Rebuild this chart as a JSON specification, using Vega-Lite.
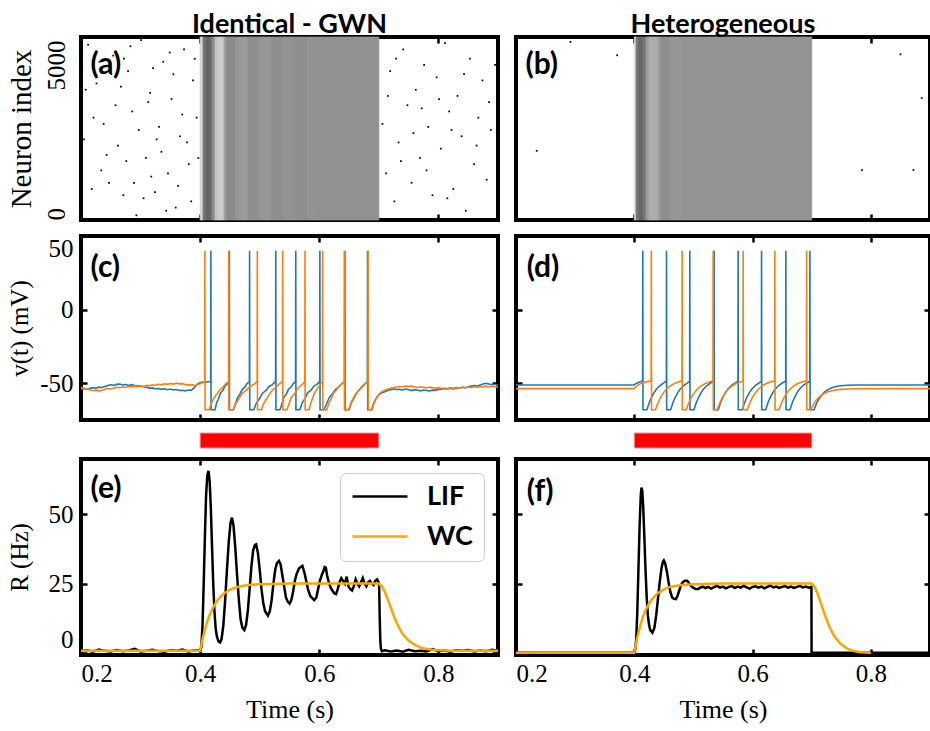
{
"$schema": "https://vega.github.io/schema/vega-lite/v6.json",
"background": "white",
"padding": {"left": 4, "top": 8, "right": 0, "bottom": 0},
"datasets": {
"rasA_band": [
{"t0":0.400,"t1":0.405,"d":0.15},{"t0":0.405,"t1":0.410,"d":0.52},{"t0":0.410,"t1":0.415,"d":0.58},{"t0":0.415,"t1":0.420,"d":0.56},
{"t0":0.420,"t1":0.425,"d":0.42},{"t0":0.425,"t1":0.430,"d":0.22},{"t0":0.430,"t1":0.440,"d":0.18},
{"t0":0.440,"t1":0.445,"d":0.35},{"t0":0.445,"t1":0.460,"d":0.42},{"t0":0.460,"t1":0.470,"d":0.38},{"t0":0.470,"t1":0.480,"d":0.36},
{"t0":0.480,"t1":0.500,"d":0.41},{"t0":0.500,"t1":0.520,"d":0.38},{"t0":0.520,"t1":0.540,"d":0.41},{"t0":0.540,"t1":0.560,"d":0.39},
{"t0":0.560,"t1":0.580,"d":0.41},{"t0":0.580,"t1":0.600,"d":0.39},{"t0":0.600,"t1":0.700,"d":0.40}
],
"rasB_band": [
{"t0":0.400,"t1":0.403,"d":0.12},{"t0":0.403,"t1":0.408,"d":0.5},{"t0":0.408,"t1":0.415,"d":0.57},{"t0":0.415,"t1":0.420,"d":0.5},
{"t0":0.420,"t1":0.425,"d":0.36},{"t0":0.425,"t1":0.440,"d":0.29},{"t0":0.440,"t1":0.445,"d":0.35},
{"t0":0.445,"t1":0.460,"d":0.41},{"t0":0.460,"t1":0.480,"d":0.38},{"t0":0.480,"t1":0.700,"d":0.39}
],
"rasA_dots": [
{"t":0.212,"n":5650},{"t":0.226,"n":4400},{"t":0.238,"n":3100},{"t":0.247,"n":1200},{"t":0.254,"n":5300},{"t":0.262,"n":2400},
{"t":0.271,"n":800},{"t":0.279,"n":4800},{"t":0.286,"n":3500},{"t":0.293,"n":150},{"t":0.301,"n":5800},{"t":0.309,"n":2000},
{"t":0.316,"n":4100},{"t":0.324,"n":900},{"t":0.331,"n":3000},{"t":0.338,"n":5100},{"t":0.346,"n":1500},{"t":0.352,"n":3900},
{"t":0.359,"n":400},{"t":0.366,"n":2700},{"t":0.373,"n":5500},{"t":0.381,"n":1800},{"t":0.388,"n":4500},{"t":0.394,"n":3300},
{"t":0.205,"n":2600},{"t":0.218,"n":1000},{"t":0.231,"n":5100},{"t":0.243,"n":2100},{"t":0.258,"n":3700},{"t":0.267,"n":4300},
{"t":0.276,"n":1900},{"t":0.283,"n":5600},{"t":0.297,"n":2900},{"t":0.305,"n":700},{"t":0.313,"n":3800},{"t":0.321,"n":4900},
{"t":0.335,"n":2200},{"t":0.343,"n":300},{"t":0.355,"n":4700},{"t":0.363,"n":1100},{"t":0.370,"n":3400},{"t":0.378,"n":2500},
{"t":0.385,"n":600},{"t":0.391,"n":5200},{"t":0.208,"n":4200},{"t":0.221,"n":3300},{"t":0.251,"n":4700},{"t":0.289,"n":1200},
{"t":0.327,"n":2600},{"t":0.349,"n":5400},{"t":0.397,"n":2000},{"t":0.234,"n":1600},{"t":0.272,"n":5200},{"t":0.318,"n":1400},
{"t":0.706,"n":3100},{"t":0.712,"n":1500},{"t":0.719,"n":4800},{"t":0.726,"n":600},{"t":0.733,"n":2500},{"t":0.741,"n":5500},
{"t":0.748,"n":3700},{"t":0.755,"n":1200},{"t":0.762,"n":4200},{"t":0.769,"n":2000},{"t":0.776,"n":5000},{"t":0.783,"n":3000},
{"t":0.790,"n":800},{"t":0.797,"n":4600},{"t":0.804,"n":2300},{"t":0.811,"n":5700},{"t":0.818,"n":3500},{"t":0.825,"n":1000},
{"t":0.832,"n":4000},{"t":0.839,"n":2700},{"t":0.846,"n":300},{"t":0.853,"n":5200},{"t":0.860,"n":1800},{"t":0.867,"n":3300},
{"t":0.874,"n":4500},{"t":0.881,"n":1300},{"t":0.888,"n":2900},{"t":0.895,"n":5000},{"t":0.715,"n":4000},{"t":0.737,"n":1900},
{"t":0.758,"n":2800},{"t":0.780,"n":1600},{"t":0.801,"n":3900},{"t":0.822,"n":2900},{"t":0.843,"n":4700},{"t":0.864,"n":2400},
{"t":0.885,"n":3800},{"t":0.729,"n":5200},{"t":0.772,"n":3600},{"t":0.815,"n":700}
],
"rasB_dots": [
{"t":0.292,"n":5740},{"t":0.371,"n":5310},{"t":0.235,"n":2230},{"t":0.850,"n":5340},{"t":0.886,"n":3930},{"t":0.785,"n":1610},{"t":0.872,"n":1610}
],
"vC_b": [
{"t":0.200,"v":-54.0},{"t":0.205,"v":-53.6},{"t":0.210,"v":-54.2},{"t":0.215,"v":-53.5},{"t":0.220,"v":-53.0},{"t":0.225,"v":-53.4},
{"t":0.230,"v":-52.7},{"t":0.235,"v":-52.9},{"t":0.240,"v":-52.2},{"t":0.245,"v":-51.6},{"t":0.250,"v":-51.1},{"t":0.255,"v":-51.5},
{"t":0.260,"v":-50.8},{"t":0.265,"v":-50.6},{"t":0.270,"v":-51.2},{"t":0.275,"v":-50.9},{"t":0.280,"v":-51.5},{"t":0.285,"v":-51.0},
{"t":0.290,"v":-51.6},{"t":0.295,"v":-52.0},{"t":0.300,"v":-51.7},{"t":0.305,"v":-52.4},{"t":0.310,"v":-52.8},{"t":0.315,"v":-53.5},
{"t":0.320,"v":-53.2},{"t":0.325,"v":-53.9},{"t":0.330,"v":-53.6},{"t":0.335,"v":-54.2},{"t":0.340,"v":-53.8},{"t":0.345,"v":-54.4},
{"t":0.350,"v":-54.0},{"t":0.355,"v":-54.6},{"t":0.360,"v":-54.3},{"t":0.365,"v":-55.0},{"t":0.370,"v":-54.8},{"t":0.375,"v":-55.2},
{"t":0.380,"v":-54.6},{"t":0.385,"v":-54.9},{"t":0.390,"v":-53.2},{"t":0.393,"v":-51.8},{"t":0.396,"v":-50.4},{"t":0.400,"v":-49.6},
{"t":0.404,"v":-49.3},{"t":0.408,"v":-49.6},{"t":0.412,"v":-49.0},{"t":0.4177,"v":-48.8},
{"t":0.418,"v":40},{"t":0.4183,"v":-68},
{"t":0.425,"v":-68},{"t":0.4278,"v":-63.2},{"t":0.4309,"v":-60.6},{"t":0.4345,"v":-56.5},{"t":0.4380,"v":-55.0},{"t":0.4416,"v":-52.0},{"t":0.4451,"v":-50.9},{"t":0.4487,"v":-48.9},
{"t":0.449,"v":40},{"t":0.4493,"v":-68},
{"t":0.456,"v":-68},{"t":0.4592,"v":-64.1},{"t":0.4627,"v":-59.8},{"t":0.4667,"v":-57.4},{"t":0.4707,"v":-54.2},{"t":0.4747,"v":-52.9},{"t":0.4787,"v":-50.3},{"t":0.4827,"v":-49.1},
{"t":0.483,"v":40},{"t":0.4833,"v":-68},
{"t":0.490,"v":-68},{"t":0.4944,"v":-63.5},{"t":0.4992,"v":-60.9},{"t":0.5047,"v":-56.8},{"t":0.5102,"v":-55.1},{"t":0.5157,"v":-52.2},{"t":0.5212,"v":-51.0},{"t":0.5267,"v":-48.8},
{"t":0.527,"v":40},{"t":0.5273,"v":-68},
{"t":0.534,"v":-68},{"t":0.5371,"v":-64.3},{"t":0.5406,"v":-59.6},{"t":0.5445,"v":-57.6},{"t":0.5484,"v":-54.0},{"t":0.5523,"v":-52.8},{"t":0.5563,"v":-50.2},{"t":0.5602,"v":-49.0},
{"t":0.5605,"v":40},{"t":0.5608,"v":-68},
{"t":0.5675,"v":-68},{"t":0.5715,"v":-63.0},{"t":0.5758,"v":-60.7},{"t":0.5808,"v":-56.3},{"t":0.5858,"v":-54.9},{"t":0.5907,"v":-52.1},{"t":0.5957,"v":-50.8},{"t":0.6007,"v":-48.9},
{"t":0.601,"v":40},{"t":0.6013,"v":-68},
{"t":0.608,"v":-68},{"t":0.6122,"v":-64.0},{"t":0.6167,"v":-59.9},{"t":0.6219,"v":-57.3},{"t":0.6271,"v":-54.3},{"t":0.6323,"v":-52.7},{"t":0.6375,"v":-50.4},{"t":0.6427,"v":-49.1},
{"t":0.643,"v":40},{"t":0.6433,"v":-68},
{"t":0.650,"v":-68},{"t":0.6537,"v":-63.4},{"t":0.6577,"v":-60.5},{"t":0.6623,"v":-56.7},{"t":0.6669,"v":-54.8},{"t":0.6715,"v":-52.3},{"t":0.6761,"v":-50.7},{"t":0.6807,"v":-48.9},
{"t":0.681,"v":40},{"t":0.6813,"v":-68},
{"t":0.688,"v":-68},{"t":0.691,"v":-64.0},{"t":0.695,"v":-60.5},{"t":0.700,"v":-57.8},{"t":0.705,"v":-56.5},{"t":0.710,"v":-55.8},
{"t":0.715,"v":-55.0},{"t":0.720,"v":-54.5},{"t":0.725,"v":-54.0},{"t":0.730,"v":-54.3},{"t":0.735,"v":-54.2},{"t":0.740,"v":-54.6},
{"t":0.745,"v":-54.0},{"t":0.750,"v":-54.5},{"t":0.755,"v":-55.0},{"t":0.760,"v":-54.4},{"t":0.765,"v":-54.8},{"t":0.770,"v":-55.2},
{"t":0.775,"v":-54.6},{"t":0.780,"v":-55.0},{"t":0.785,"v":-55.3},{"t":0.790,"v":-54.7},{"t":0.795,"v":-54.9},{"t":0.800,"v":-54.2},
{"t":0.805,"v":-54.0},{"t":0.810,"v":-53.5},{"t":0.815,"v":-53.8},{"t":0.820,"v":-53.2},{"t":0.825,"v":-53.6},{"t":0.830,"v":-53.0},
{"t":0.835,"v":-53.4},{"t":0.840,"v":-52.8},{"t":0.845,"v":-53.1},{"t":0.850,"v":-52.5},{"t":0.855,"v":-52.0},{"t":0.860,"v":-51.6},
{"t":0.865,"v":-51.9},{"t":0.870,"v":-51.2},{"t":0.875,"v":-50.6},{"t":0.880,"v":-50.1},{"t":0.885,"v":-50.5},{"t":0.890,"v":-51.0},
{"t":0.895,"v":-50.7},{"t":0.900,"v":-51.2}
],
"vC_o": [
{"t":0.200,"v":-52.8},{"t":0.205,"v":-53.4},{"t":0.210,"v":-54.0},{"t":0.215,"v":-54.6},{"t":0.220,"v":-55.0},{"t":0.225,"v":-54.7},
{"t":0.230,"v":-55.2},{"t":0.235,"v":-54.8},{"t":0.240,"v":-54.1},{"t":0.245,"v":-53.6},{"t":0.250,"v":-53.9},{"t":0.255,"v":-53.2},
{"t":0.260,"v":-52.8},{"t":0.265,"v":-53.1},{"t":0.270,"v":-52.6},{"t":0.275,"v":-52.9},{"t":0.280,"v":-52.3},{"t":0.285,"v":-52.6},
{"t":0.290,"v":-52.0},{"t":0.295,"v":-52.4},{"t":0.300,"v":-51.9},{"t":0.305,"v":-52.2},{"t":0.310,"v":-51.5},{"t":0.315,"v":-51.8},
{"t":0.320,"v":-51.1},{"t":0.325,"v":-51.4},{"t":0.330,"v":-50.7},{"t":0.335,"v":-51.0},{"t":0.340,"v":-50.4},{"t":0.345,"v":-50.8},
{"t":0.350,"v":-50.2},{"t":0.355,"v":-50.6},{"t":0.360,"v":-50.0},{"t":0.365,"v":-50.5},{"t":0.370,"v":-50.3},{"t":0.375,"v":-50.9},
{"t":0.380,"v":-51.3},{"t":0.385,"v":-51.0},{"t":0.390,"v":-51.6},{"t":0.395,"v":-51.2},{"t":0.400,"v":-50.4},{"t":0.404,"v":-49.5},
{"t":0.4077,"v":-48.8},
{"t":0.408,"v":40},{"t":0.4083,"v":-68},
{"t":0.415,"v":-68},{"t":0.4189,"v":-63.6},{"t":0.4232,"v":-60.0},{"t":0.4281,"v":-57.3},{"t":0.4330,"v":-54.4},{"t":0.4379,"v":-52.8},{"t":0.4428,"v":-50.4},{"t":0.4477,"v":-48.9},
{"t":0.448,"v":40},{"t":0.4483,"v":-68},
{"t":0.455,"v":-68},{"t":0.4599,"v":-63.9},{"t":0.4652,"v":-60.4},{"t":0.4713,"v":-56.6},{"t":0.4774,"v":-54.9},{"t":0.4835,"v":-52.2},{"t":0.4896,"v":-50.9},{"t":0.4957,"v":-48.8},
{"t":0.496,"v":40},{"t":0.4963,"v":-68},
{"t":0.503,"v":-68},{"t":0.5072,"v":-63.4},{"t":0.5118,"v":-60.6},{"t":0.5171,"v":-56.9},{"t":0.5224,"v":-54.3},{"t":0.5276,"v":-52.6},{"t":0.5329,"v":-50.5},{"t":0.5382,"v":-49.0},
{"t":0.5385,"v":40},{"t":0.5388,"v":-68},
{"t":0.5455,"v":-68},{"t":0.5491,"v":-64.2},{"t":0.5531,"v":-59.7},{"t":0.5576,"v":-57.5},{"t":0.5621,"v":-54.7},{"t":0.5666,"v":-52.4},{"t":0.5712,"v":-50.9},{"t":0.5757,"v":-48.9},
{"t":0.576,"v":40},{"t":0.5763,"v":-68},
{"t":0.583,"v":-68},{"t":0.5857,"v":-63.7},{"t":0.5886,"v":-60.3},{"t":0.5919,"v":-56.8},{"t":0.5953,"v":-54.5},{"t":0.5986,"v":-52.6},{"t":0.6020,"v":-50.5},{"t":0.6053,"v":-49.0},
{"t":0.6056,"v":40},{"t":0.6059,"v":-68},
{"t":0.6126,"v":-68},{"t":0.6161,"v":-63.5},{"t":0.6199,"v":-60.8},{"t":0.6242,"v":-56.6},{"t":0.6286,"v":-54.8},{"t":0.6330,"v":-52.1},{"t":0.6373,"v":-50.7},{"t":0.6417,"v":-48.9},
{"t":0.642,"v":40},{"t":0.6423,"v":-68},
{"t":0.649,"v":-68},{"t":0.6529,"v":-64.0},{"t":0.6572,"v":-60.0},{"t":0.6621,"v":-57.2},{"t":0.6670,"v":-54.3},{"t":0.6719,"v":-52.7},{"t":0.6768,"v":-50.4},{"t":0.6817,"v":-48.8},
{"t":0.682,"v":40},{"t":0.6823,"v":-68},
{"t":0.689,"v":-68},{"t":0.692,"v":-63.5},{"t":0.696,"v":-59.8},{"t":0.700,"v":-57.5},{"t":0.705,"v":-55.8},{"t":0.710,"v":-54.8},
{"t":0.715,"v":-54.0},{"t":0.720,"v":-53.5},{"t":0.725,"v":-53.0},{"t":0.730,"v":-52.6},{"t":0.735,"v":-52.2},{"t":0.740,"v":-52.5},
{"t":0.745,"v":-51.9},{"t":0.750,"v":-52.3},{"t":0.755,"v":-52.0},{"t":0.760,"v":-52.6},{"t":0.765,"v":-52.9},{"t":0.770,"v":-52.4},
{"t":0.775,"v":-52.8},{"t":0.780,"v":-53.2},{"t":0.785,"v":-52.7},{"t":0.790,"v":-53.1},{"t":0.795,"v":-53.5},{"t":0.800,"v":-53.0},
{"t":0.805,"v":-53.4},{"t":0.810,"v":-53.8},{"t":0.815,"v":-54.1},{"t":0.820,"v":-53.6},{"t":0.825,"v":-54.0},{"t":0.830,"v":-53.5},
{"t":0.835,"v":-53.2},{"t":0.840,"v":-52.8},{"t":0.845,"v":-53.1},{"t":0.850,"v":-52.6},{"t":0.855,"v":-52.9},{"t":0.860,"v":-52.4},
{"t":0.865,"v":-52.7},{"t":0.870,"v":-52.2},{"t":0.875,"v":-52.5},{"t":0.880,"v":-52.0},{"t":0.885,"v":-52.4},{"t":0.890,"v":-52.1},
{"t":0.895,"v":-52.6},{"t":0.900,"v":-52.3}
],
"vD_b": [
{"t":0.2,"v":-51.2},{"t":0.4,"v":-51.2},{"t":0.403,"v":-50.2},{"t":0.407,"v":-49.5},{"t":0.411,"v":-48.9},{"t":0.4141,"v":-48.6},
{"t":0.4144,"v":40},{"t":0.4147,"v":-68},{"t":0.4214,"v":-68},{"t":0.4254,"v":-63.1},{"t":0.4294,"v":-59.4},{"t":0.4334,"v":-56.4},{"t":0.4374,"v":-54.1},{"t":0.4434,"v":-51.6},{"t":0.4494,"v":-49.9},{"t":0.4542,"v":-48.7},
{"t":0.4545,"v":40},{"t":0.4548,"v":-68},{"t":0.4615,"v":-68},{"t":0.4655,"v":-63.1},{"t":0.4695,"v":-59.4},{"t":0.4735,"v":-56.4},{"t":0.4775,"v":-54.1},{"t":0.4835,"v":-51.6},{"t":0.4895,"v":-49.9},{"t":0.4936,"v":-48.7},
{"t":0.4939,"v":40},{"t":0.4942,"v":-68},{"t":0.5009,"v":-68},{"t":0.5049,"v":-63.1},{"t":0.5089,"v":-59.4},{"t":0.5129,"v":-56.4},{"t":0.5169,"v":-54.1},{"t":0.5229,"v":-51.6},{"t":0.5289,"v":-49.9},{"t":0.5347,"v":-48.7},
{"t":0.535,"v":40},{"t":0.5353,"v":-68},{"t":0.542,"v":-68},{"t":0.546,"v":-63.1},{"t":0.550,"v":-59.4},{"t":0.554,"v":-56.4},{"t":0.558,"v":-54.1},{"t":0.564,"v":-51.6},{"t":0.570,"v":-49.9},{"t":0.5753,"v":-48.7},
{"t":0.5756,"v":40},{"t":0.5759,"v":-68},{"t":0.5826,"v":-68},{"t":0.5866,"v":-63.1},{"t":0.5906,"v":-59.4},{"t":0.5946,"v":-56.4},{"t":0.5986,"v":-54.1},{"t":0.6046,"v":-51.6},{"t":0.6106,"v":-49.9},{"t":0.6149,"v":-48.7},
{"t":0.6152,"v":40},{"t":0.6155,"v":-68},{"t":0.6222,"v":-68},{"t":0.6262,"v":-63.1},{"t":0.6302,"v":-59.4},{"t":0.6342,"v":-56.4},{"t":0.6382,"v":-54.1},{"t":0.6442,"v":-51.6},{"t":0.6502,"v":-49.9},{"t":0.656,"v":-48.7},
{"t":0.6563,"v":40},{"t":0.6566,"v":-68},{"t":0.6633,"v":-68},{"t":0.6673,"v":-63.1},{"t":0.6713,"v":-59.4},{"t":0.6753,"v":-56.4},{"t":0.6793,"v":-54.1},{"t":0.6853,"v":-51.6},{"t":0.6913,"v":-49.9},{"t":0.6967,"v":-48.7},
{"t":0.697,"v":40},{"t":0.6973,"v":-68},{"t":0.704,"v":-68},{"t":0.708,"v":-63.9},{"t":0.712,"v":-60.9},{"t":0.717,"v":-58.0},{"t":0.722,"v":-55.9},{"t":0.728,"v":-54.2},{"t":0.735,"v":-52.9},{"t":0.745,"v":-51.9},{"t":0.76,"v":-51.4},{"t":0.78,"v":-51.25},{"t":0.9,"v":-51.2}
],
"vD_o": [
{"t":0.2,"v":-53.7},{"t":0.4,"v":-53.7},{"t":0.403,"v":-52.4},{"t":0.407,"v":-51.1},{"t":0.411,"v":-50.2},{"t":0.415,"v":-49.6},{"t":0.42,"v":-49.1},{"t":0.4285,"v":-48.5},
{"t":0.4288,"v":40},{"t":0.4291,"v":-68},{"t":0.4358,"v":-68},{"t":0.4398,"v":-63.6},{"t":0.4438,"v":-60.1},{"t":0.4478,"v":-57.4},{"t":0.4538,"v":-54.3},{"t":0.4598,"v":-52.1},{"t":0.4678,"v":-50.2},{"t":0.4758,"v":-49.0},{"t":0.4806,"v":-48.4},
{"t":0.4809,"v":40},{"t":0.4812,"v":-68},{"t":0.4879,"v":-68},{"t":0.4919,"v":-63.6},{"t":0.4959,"v":-60.1},{"t":0.4999,"v":-57.4},{"t":0.5059,"v":-54.3},{"t":0.5119,"v":-52.1},{"t":0.5199,"v":-50.2},{"t":0.5279,"v":-49.0},{"t":0.533,"v":-48.4},
{"t":0.5333,"v":40},{"t":0.5336,"v":-68},{"t":0.5403,"v":-68},{"t":0.5443,"v":-63.6},{"t":0.5483,"v":-60.1},{"t":0.5523,"v":-57.4},{"t":0.5583,"v":-54.3},{"t":0.5643,"v":-52.1},{"t":0.5723,"v":-50.2},{"t":0.5803,"v":-49.0},{"t":0.5838,"v":-48.4},
{"t":0.5841,"v":40},{"t":0.5844,"v":-68},{"t":0.5911,"v":-68},{"t":0.5951,"v":-63.6},{"t":0.5991,"v":-60.1},{"t":0.6031,"v":-57.4},{"t":0.6091,"v":-54.3},{"t":0.6151,"v":-52.1},{"t":0.6231,"v":-50.2},{"t":0.6311,"v":-49.0},{"t":0.6374,"v":-48.4},
{"t":0.6377,"v":40},{"t":0.638,"v":-68},{"t":0.6447,"v":-68},{"t":0.6487,"v":-63.6},{"t":0.6527,"v":-60.1},{"t":0.6567,"v":-57.4},{"t":0.6627,"v":-54.3},{"t":0.6687,"v":-52.1},{"t":0.6767,"v":-50.2},{"t":0.6847,"v":-49.0},{"t":0.6911,"v":-48.4},
{"t":0.6914,"v":40},{"t":0.6917,"v":-68},{"t":0.6984,"v":-68},{"t":0.70,"v":-66.8},{"t":0.704,"v":-63.7},{"t":0.708,"v":-61.3},{"t":0.713,"v":-59.3},{"t":0.718,"v":-57.6},{"t":0.724,"v":-56.3},{"t":0.73,"v":-55.4},{"t":0.74,"v":-54.6},{"t":0.75,"v":-54.2},{"t":0.77,"v":-53.8},{"t":0.9,"v":-53.7}
],
"rE": [
{"t":0.20,"r":0.6,"m":"LIF"},{"t":0.21,"r":0.9,"m":"LIF"},{"t":0.22,"r":0.4,"m":"LIF"},{"t":0.23,"r":1.2,"m":"LIF"},{"t":0.24,"r":0.7,"m":"LIF"},
{"t":0.25,"r":0.5,"m":"LIF"},{"t":0.26,"r":1.0,"m":"LIF"},{"t":0.27,"r":0.6,"m":"LIF"},{"t":0.28,"r":0.8,"m":"LIF"},{"t":0.29,"r":1.4,"m":"LIF"},
{"t":0.30,"r":0.5,"m":"LIF"},{"t":0.31,"r":0.7,"m":"LIF"},{"t":0.32,"r":1.1,"m":"LIF"},{"t":0.33,"r":0.6,"m":"LIF"},{"t":0.34,"r":0.4,"m":"LIF"},
{"t":0.35,"r":0.9,"m":"LIF"},{"t":0.36,"r":0.7,"m":"LIF"},{"t":0.37,"r":1.2,"m":"LIF"},{"t":0.38,"r":0.5,"m":"LIF"},{"t":0.39,"r":0.8,"m":"LIF"},
{"t":0.400,"r":0.8,"m":"LIF"},{"t":0.402,"r":2,"m":"LIF"},{"t":0.404,"r":10,"m":"LIF"},{"t":0.406,"r":25,"m":"LIF"},{"t":0.408,"r":42,"m":"LIF"},
{"t":0.410,"r":57,"m":"LIF"},{"t":0.412,"r":64,"m":"LIF"},{"t":0.414,"r":65.7,"m":"LIF"},{"t":0.416,"r":62,"m":"LIF"},{"t":0.418,"r":52,"m":"LIF"},
{"t":0.420,"r":38,"m":"LIF"},{"t":0.422,"r":25,"m":"LIF"},{"t":0.424,"r":15,"m":"LIF"},{"t":0.426,"r":9,"m":"LIF"},{"t":0.428,"r":6,"m":"LIF"},
{"t":0.431,"r":4,"m":"LIF"},{"t":0.4336,"r":3.7,"m":"LIF"},{"t":0.436,"r":5,"m":"LIF"},{"t":0.439,"r":10,"m":"LIF"},{"t":0.442,"r":19,"m":"LIF"},
{"t":0.445,"r":30,"m":"LIF"},{"t":0.448,"r":40,"m":"LIF"},{"t":0.451,"r":47,"m":"LIF"},{"t":0.4534,"r":48.8,"m":"LIF"},{"t":0.456,"r":46,"m":"LIF"},
{"t":0.459,"r":38,"m":"LIF"},{"t":0.462,"r":28,"m":"LIF"},{"t":0.465,"r":19,"m":"LIF"},{"t":0.468,"r":12,"m":"LIF"},{"t":0.471,"r":9,"m":"LIF"},
{"t":0.4742,"r":8.2,"m":"LIF"},{"t":0.477,"r":10,"m":"LIF"},{"t":0.480,"r":15,"m":"LIF"},{"t":0.483,"r":23,"m":"LIF"},{"t":0.486,"r":31,"m":"LIF"},
{"t":0.489,"r":37,"m":"LIF"},{"t":0.492,"r":39,"m":"LIF"},{"t":0.494,"r":39.2,"m":"LIF"},{"t":0.497,"r":36,"m":"LIF"},{"t":0.500,"r":30,"m":"LIF"},
{"t":0.503,"r":23,"m":"LIF"},{"t":0.506,"r":18,"m":"LIF"},{"t":0.509,"r":15,"m":"LIF"},{"t":0.5137,"r":13.4,"m":"LIF"},{"t":0.517,"r":15,"m":"LIF"},
{"t":0.520,"r":19,"m":"LIF"},{"t":0.523,"r":25,"m":"LIF"},{"t":0.526,"r":30,"m":"LIF"},{"t":0.529,"r":32.5,"m":"LIF"},{"t":0.5323,"r":33.2,"m":"LIF"},
{"t":0.535,"r":32,"m":"LIF"},{"t":0.538,"r":28,"m":"LIF"},{"t":0.541,"r":24,"m":"LIF"},{"t":0.544,"r":20,"m":"LIF"},{"t":0.547,"r":18.5,"m":"LIF"},
{"t":0.5502,"r":17.8,"m":"LIF"},{"t":0.553,"r":19,"m":"LIF"},{"t":0.556,"r":22,"m":"LIF"},{"t":0.559,"r":26,"m":"LIF"},{"t":0.562,"r":28.5,"m":"LIF"},
{"t":0.566,"r":30.5,"m":"LIF"},{"t":0.5716,"r":31.4,"m":"LIF"},{"t":0.575,"r":29,"m":"LIF"},{"t":0.578,"r":26,"m":"LIF"},{"t":0.581,"r":23,"m":"LIF"},
{"t":0.585,"r":20.5,"m":"LIF"},{"t":0.5914,"r":19,"m":"LIF"},{"t":0.595,"r":20,"m":"LIF"},{"t":0.598,"r":23,"m":"LIF"},{"t":0.601,"r":26,"m":"LIF"},
{"t":0.604,"r":28,"m":"LIF"},{"t":0.607,"r":29.5,"m":"LIF"},{"t":0.609,"r":31,"m":"LIF"},{"t":0.611,"r":30.8,"m":"LIF"},{"t":0.613,"r":28,"m":"LIF"},
{"t":0.616,"r":25.5,"m":"LIF"},{"t":0.619,"r":23.5,"m":"LIF"},{"t":0.622,"r":22.5,"m":"LIF"},{"t":0.625,"r":21.5,"m":"LIF"},{"t":0.628,"r":21.2,"m":"LIF"},
{"t":0.631,"r":23,"m":"LIF"},{"t":0.634,"r":25.5,"m":"LIF"},{"t":0.637,"r":27,"m":"LIF"},{"t":0.640,"r":26,"m":"LIF"},{"t":0.643,"r":25,"m":"LIF"},
{"t":0.646,"r":27.5,"m":"LIF"},{"t":0.649,"r":24,"m":"LIF"},{"t":0.652,"r":23,"m":"LIF"},{"t":0.655,"r":22.5,"m":"LIF"},{"t":0.658,"r":24,"m":"LIF"},
{"t":0.661,"r":26.5,"m":"LIF"},{"t":0.664,"r":25,"m":"LIF"},{"t":0.667,"r":24,"m":"LIF"},{"t":0.670,"r":25.5,"m":"LIF"},{"t":0.673,"r":27,"m":"LIF"},
{"t":0.676,"r":25,"m":"LIF"},{"t":0.679,"r":24,"m":"LIF"},{"t":0.682,"r":25.5,"m":"LIF"},{"t":0.685,"r":26,"m":"LIF"},{"t":0.688,"r":25,"m":"LIF"},
{"t":0.691,"r":24.5,"m":"LIF"},{"t":0.694,"r":26,"m":"LIF"},{"t":0.697,"r":26.5,"m":"LIF"},{"t":0.699,"r":25.8,"m":"LIF"},{"t":0.7005,"r":24,"m":"LIF"},
{"t":0.7015,"r":12,"m":"LIF"},{"t":0.7025,"r":4,"m":"LIF"},{"t":0.7035,"r":1.5,"m":"LIF"},{"t":0.705,"r":0.6,"m":"LIF"},
{"t":0.71,"r":0.9,"m":"LIF"},{"t":0.72,"r":0.5,"m":"LIF"},{"t":0.73,"r":0.8,"m":"LIF"},{"t":0.74,"r":0.4,"m":"LIF"},{"t":0.75,"r":1.1,"m":"LIF"},
{"t":0.76,"r":0.6,"m":"LIF"},{"t":0.77,"r":0.7,"m":"LIF"},{"t":0.78,"r":0.5,"m":"LIF"},{"t":0.79,"r":1.3,"m":"LIF"},{"t":0.80,"r":0.6,"m":"LIF"},
{"t":0.81,"r":0.8,"m":"LIF"},{"t":0.82,"r":0.4,"m":"LIF"},{"t":0.83,"r":0.9,"m":"LIF"},{"t":0.84,"r":0.7,"m":"LIF"},{"t":0.85,"r":1.0,"m":"LIF"},
{"t":0.86,"r":0.5,"m":"LIF"},{"t":0.87,"r":0.8,"m":"LIF"},{"t":0.88,"r":0.6,"m":"LIF"},{"t":0.89,"r":1.1,"m":"LIF"},{"t":0.90,"r":0.7,"m":"LIF"},
{"t":0.200,"r":0.7,"m":"WC"},{"t":0.400,"r":0.7,"m":"WC"},{"t":0.405,"r":5.85,"m":"WC"},{"t":0.410,"r":9.9,"m":"WC"},{"t":0.415,"r":13.1,"m":"WC"},
{"t":0.420,"r":15.6,"m":"WC"},{"t":0.425,"r":17.6,"m":"WC"},{"t":0.430,"r":19.2,"m":"WC"},{"t":0.435,"r":20.4,"m":"WC"},{"t":0.440,"r":21.4,"m":"WC"},
{"t":0.450,"r":22.8,"m":"WC"},{"t":0.460,"r":23.6,"m":"WC"},{"t":0.470,"r":24.1,"m":"WC"},{"t":0.480,"r":24.5,"m":"WC"},{"t":0.500,"r":24.8,"m":"WC"},
{"t":0.550,"r":25.0,"m":"WC"},{"t":0.700,"r":25.0,"m":"WC"},{"t":0.705,"r":24.0,"m":"WC"},{"t":0.710,"r":22.0,"m":"WC"},{"t":0.715,"r":19.3,"m":"WC"},
{"t":0.720,"r":16.3,"m":"WC"},{"t":0.725,"r":13.4,"m":"WC"},{"t":0.730,"r":10.8,"m":"WC"},{"t":0.735,"r":8.6,"m":"WC"},{"t":0.740,"r":6.8,"m":"WC"},
{"t":0.750,"r":4.3,"m":"WC"},{"t":0.760,"r":2.9,"m":"WC"},{"t":0.770,"r":1.9,"m":"WC"},{"t":0.780,"r":1.4,"m":"WC"},{"t":0.790,"r":1.1,"m":"WC"},
{"t":0.800,"r":0.9,"m":"WC"},{"t":0.820,"r":0.75,"m":"WC"},{"t":0.900,"r":0.7,"m":"WC"}
],
"rF_lif": [
{"t":0.2,"r":0},{"t":0.4,"r":0},{"t":0.401,"r":0.5},{"t":0.403,"r":4},{"t":0.405,"r":14},{"t":0.407,"r":30},{"t":0.409,"r":46},{"t":0.411,"r":57},
{"t":0.4122,"r":59.7},{"t":0.4135,"r":58.5},{"t":0.415,"r":53},{"t":0.417,"r":42},{"t":0.419,"r":30},{"t":0.421,"r":20},{"t":0.423,"r":13.5},
{"t":0.425,"r":10},{"t":0.427,"r":8.2},{"t":0.4307,"r":7.3},{"t":0.434,"r":9},{"t":0.437,"r":13.5},{"t":0.44,"r":19.5},{"t":0.443,"r":25.5},
{"t":0.446,"r":30.5},{"t":0.4485,"r":33},{"t":0.4499,"r":33.4},{"t":0.452,"r":32.5},{"t":0.455,"r":29.5},{"t":0.458,"r":25.5},{"t":0.461,"r":22},
{"t":0.464,"r":20},{"t":0.467,"r":19.5},{"t":0.4702,"r":19.4},{"t":0.473,"r":20.5},{"t":0.476,"r":22.5},{"t":0.479,"r":24.5},{"t":0.482,"r":25.5},
{"t":0.4855,"r":26},{"t":0.4894,"r":26},{"t":0.4925,"r":25.2},{"t":0.496,"r":24.2},{"t":0.5,"r":23.4},{"t":0.504,"r":23},{"t":0.508,"r":23},
{"t":0.512,"r":23.6},{"t":0.516,"r":23.9},{"t":0.52,"r":23.4},{"t":0.525,"r":23.8},{"t":0.53,"r":23.2},{"t":0.535,"r":23.7},{"t":0.54,"r":24.2},
{"t":0.545,"r":23.5},{"t":0.55,"r":23.9},{"t":0.555,"r":23.3},{"t":0.56,"r":23.8},{"t":0.565,"r":24.1},{"t":0.57,"r":23.4},{"t":0.575,"r":23.9},
{"t":0.58,"r":23.5},{"t":0.585,"r":24.2},{"t":0.59,"r":23.6},{"t":0.595,"r":23.2},{"t":0.6,"r":23.8},{"t":0.605,"r":24.0},{"t":0.61,"r":23.5},
{"t":0.615,"r":23.9},{"t":0.62,"r":23.3},{"t":0.625,"r":23.8},{"t":0.63,"r":24.3},{"t":0.635,"r":23.6},{"t":0.64,"r":23.9},{"t":0.645,"r":23.4},
{"t":0.65,"r":23.8},{"t":0.655,"r":24.1},{"t":0.66,"r":23.5},{"t":0.665,"r":23.9},{"t":0.67,"r":23.4},{"t":0.675,"r":23.8},{"t":0.68,"r":24.2},
{"t":0.685,"r":23.6},{"t":0.69,"r":23.9},{"t":0.695,"r":23.5},{"t":0.6995,"r":23.8},{"t":0.6998,"r":0},{"t":0.9,"r":0}
],
"rF_wc": [
{"t":0.2,"r":0},{"t":0.4,"r":0},{"t":0.405,"r":5.5},{"t":0.41,"r":9.8},{"t":0.415,"r":13.2},{"t":0.42,"r":15.8},{"t":0.425,"r":17.8},{"t":0.43,"r":19.4},
{"t":0.44,"r":21.6},{"t":0.45,"r":22.9},{"t":0.46,"r":23.8},{"t":0.48,"r":24.5},{"t":0.5,"r":24.8},{"t":0.55,"r":25.0},{"t":0.7,"r":25.0},
{"t":0.705,"r":23.8},{"t":0.71,"r":21.3},{"t":0.715,"r":18.2},{"t":0.72,"r":15.0},{"t":0.725,"r":12.0},{"t":0.73,"r":9.4},{"t":0.735,"r":7.2},
{"t":0.74,"r":5.4},{"t":0.75,"r":3.0},{"t":0.76,"r":1.5},{"t":0.77,"r":0.7},{"t":0.78,"r":0.3},{"t":0.79,"r":0.1},{"t":0.8,"r":0}
],
"stim": [{"t0":0.4,"t1":0.7}]
},
"hconcat": [
{
"vconcat": [
{
"width": 417, "height": 183,
"title": {"text": "Identical - GWN", "baseline": "alphabetic", "offset": -24, "frame": "group"},
"layer": [
{"data": {"name": "rasA_band"}, "mark": {"type": "rect", "strokeWidth": 0.8},
"encoding": {
"x": {"field": "t0", "type": "quantitative", "scale": {"domain": [0.2, 0.9], "nice": false}, "axis": {"orient": "bottom", "values": [0.2, 0.4, 0.6, 0.8], "labels": false, "title": null}},
"x2": {"field": "t1"},
"y": {"datum": 0, "type": "quantitative", "scale": {"domain": [0, 5900], "nice": false}, "axis": {"orient": "left", "values": [0, 5000], "format": "d", "ticks": false, "labelAngle": 270, "labelAlign": {"condition": {"test": "datum.value == 0", "value": "left"}, "value": "center"}, "labelBaseline": "bottom", "labelPadding": 12, "title": "Neuron index", "titleFontSize": 29, "titlePadding": 8}},
"y2": {"datum": 5900},
"fill": {"field": "d", "type": "quantitative", "scale": {"domain": [0, 1], "range": ["white", "black"]}, "legend": null},
"stroke": {"field": "d", "type": "quantitative", "scale": {"domain": [0, 1], "range": ["white", "black"]}, "legend": null}}},
{"data": {"name": "rasA_dots"}, "mark": {"type": "square", "size": 3, "color": "black", "opacity": 1},
"encoding": {"x": {"field": "t", "type": "quantitative", "axis": null}, "y": {"field": "n", "type": "quantitative", "axis": null}}},
{"data": {"values": [{"t": 0.216, "n": 5000, "s": "(a)"}]}, "mark": {"type": "text", "font": "Lato", "fontWeight": "bold", "fontSize": 30, "align": "left", "baseline": "middle"},
"encoding": {"x": {"field": "t", "type": "quantitative", "axis": {"orient": "top", "values": [0.2, 0.4, 0.6, 0.8], "labels": false, "title": null}}, "y": {"field": "n", "type": "quantitative", "axis": null}, "text": {"field": "s"}}}
],
"resolve": {"axis": {"x": "independent", "y": "independent"}}
},
{
"vconcat": [
{
"width": 417, "height": 184,
"layer": [
{"data": {"name": "vC_b"}, "mark": {"type": "line", "color": "#1f77b4", "strokeWidth": 1.6},
"encoding": {
"x": {"field": "t", "type": "quantitative", "scale": {"domain": [0.2, 0.9], "nice": false}, "axis": {"orient": "bottom", "values": [0.2, 0.4, 0.6, 0.8], "labels": false, "title": null}},
"y": {"field": "v", "type": "quantitative", "scale": {"domain": [-75, 50], "nice": false}, "axis": {"orient": "left", "values": [-50, 0, 50], "labelFlush": 5, "labelPadding": 14, "labelExpr": "replace(datum.label, '−', '-')", "title": "v(t) (mV)", "titlePadding": 7}}}},
{"data": {"name": "vC_o"}, "mark": {"type": "line", "color": "#ff7f0e", "strokeWidth": 1.6},
"encoding": {"x": {"field": "t", "type": "quantitative", "axis": null}, "y": {"field": "v", "type": "quantitative", "axis": null}}},
{"data": {"values": [{"t": 0.216, "v": 28.3, "s": "(c)"}]}, "mark": {"type": "text", "font": "Lato", "fontWeight": "bold", "fontSize": 30, "align": "left", "baseline": "middle"},
"encoding": {"x": {"field": "t", "type": "quantitative", "axis": {"orient": "top", "values": [0.2, 0.4, 0.6, 0.8], "labels": false, "title": null}}, "y": {"field": "v", "type": "quantitative", "axis": {"orient": "right", "values": [-50, 0, 50], "labels": false, "title": null}}, "text": {"field": "s"}}}
],
"resolve": {"axis": {"x": "independent", "y": "independent"}}
},
{
"width": 417, "height": 17, "view": {"stroke": null},
"data": {"name": "stim"},
"mark": {"type": "rect", "color": "#ff0000", "stroke": "#ff9090", "strokeWidth": 1},
"encoding": {
"x": {"field": "t0", "type": "quantitative", "scale": {"domain": [0.2, 0.9], "nice": false}, "axis": null},
"x2": {"field": "t1"},
"y": {"datum": 0, "type": "quantitative", "scale": {"domain": [0, 17], "nice": false}, "axis": null},
"y2": {"datum": 15}}
},
{
"width": 417, "height": 196,
"layer": [
{"data": {"name": "rE"}, "mark": {"type": "line", "strokeWidth": 2.5},
"encoding": {
"x": {"field": "t", "type": "quantitative", "scale": {"domain": [0.2, 0.9], "nice": false}, "axis": {"orient": "bottom", "values": [0.2, 0.4, 0.6, 0.8], "format": ".1f", "labelFlush": 5, "labelPadding": 12, "title": "Time (s)", "titleFontSize": 26, "titlePadding": 10}},
"y": {"field": "r", "type": "quantitative", "scale": {"domain": [-0.8, 70], "nice": false}, "axis": {"orient": "left", "values": [0, 25, 50], "labelFlush": 5, "labelPadding": 14, "title": "R (Hz)", "titlePadding": 16}},
"color": {"field": "m", "type": "nominal", "scale": {"domain": ["LIF", "WC"], "range": ["black", "orange"]},
"legend": {"orient": "top-right", "offset": 14, "title": null, "symbolType": "stroke", "symbolStrokeWidth": 2.5, "symbolSize": 3025, "clipHeight": 25, "labelFont": "Lato", "labelFontSize": 27, "labelFontWeight": "bold", "labelColor": "black", "labelOffset": 18, "strokeColor": "#cccccc", "fillColor": "white", "cornerRadius": 6, "padding": 11, "rowPadding": 12}}}},
{"data": {"values": [{"t": 0.216, "r": 59, "s": "(e)"}]}, "mark": {"type": "text", "font": "Lato", "fontWeight": "bold", "fontSize": 30, "align": "left", "baseline": "middle"},
"encoding": {"x": {"field": "t", "type": "quantitative", "axis": {"orient": "top", "values": [0.2, 0.4, 0.6, 0.8], "labels": false, "title": null}}, "y": {"field": "r", "type": "quantitative", "axis": {"orient": "right", "values": [0, 25, 50], "labels": false, "title": null}}, "text": {"field": "s"}}}
],
"resolve": {"axis": {"x": "independent", "y": "independent"}}
}
],
"spacing": 11,
"bounds": "flush",
"resolve": {"scale": {"x": "independent", "y": "independent", "color": "independent", "fill": "independent", "stroke": "independent"}, "legend": {"color": "independent"}}
}
],
"spacing": 16,
"bounds": "flush",
"resolve": {"scale": {"x": "independent", "y": "independent", "color": "independent", "fill": "independent", "stroke": "independent"}, "legend": {"color": "independent"}}
},
{
"vconcat": [
{
"width": 414, "height": 183,
"title": {"text": "Heterogeneous", "baseline": "alphabetic", "offset": -24, "frame": "group"},
"layer": [
{"data": {"name": "rasB_band"}, "mark": {"type": "rect", "strokeWidth": 0.8},
"encoding": {
"x": {"field": "t0", "type": "quantitative", "scale": {"domain": [0.2, 0.9], "nice": false}, "axis": {"orient": "bottom", "values": [0.2, 0.4, 0.6, 0.8], "labels": false, "title": null}},
"x2": {"field": "t1"},
"y": {"datum": 0, "type": "quantitative", "scale": {"domain": [0, 5900], "nice": false}, "axis": null},
"y2": {"datum": 5900},
"fill": {"field": "d", "type": "quantitative", "scale": {"domain": [0, 1], "range": ["white", "black"]}, "legend": null},
"stroke": {"field": "d", "type": "quantitative", "scale": {"domain": [0, 1], "range": ["white", "black"]}, "legend": null}}},
{"data": {"name": "rasB_dots"}, "mark": {"type": "square", "size": 3, "color": "black", "opacity": 1},
"encoding": {"x": {"field": "t", "type": "quantitative", "axis": null}, "y": {"field": "n", "type": "quantitative", "axis": null}}},
{"data": {"values": [{"t": 0.216, "n": 5000, "s": "(b)"}]}, "mark": {"type": "text", "font": "Lato", "fontWeight": "bold", "fontSize": 30, "align": "left", "baseline": "middle"},
"encoding": {"x": {"field": "t", "type": "quantitative", "axis": {"orient": "top", "values": [0.2, 0.4, 0.6, 0.8], "labels": false, "title": null}}, "y": {"field": "n", "type": "quantitative", "axis": null}, "text": {"field": "s"}}}
],
"resolve": {"axis": {"x": "independent", "y": "independent"}}
},
{
"vconcat": [
{
"width": 414, "height": 184,
"layer": [
{"data": {"name": "vD_b"}, "mark": {"type": "line", "color": "#1f77b4", "strokeWidth": 1.6},
"encoding": {
"x": {"field": "t", "type": "quantitative", "scale": {"domain": [0.2, 0.9], "nice": false}, "axis": {"orient": "bottom", "values": [0.2, 0.4, 0.6, 0.8], "labels": false, "title": null}},
"y": {"field": "v", "type": "quantitative", "scale": {"domain": [-75, 50], "nice": false}, "axis": {"orient": "left", "values": [-50, 0, 50], "labels": false, "title": null}}}},
{"data": {"name": "vD_o"}, "mark": {"type": "line", "color": "#ff7f0e", "strokeWidth": 1.6},
"encoding": {"x": {"field": "t", "type": "quantitative", "axis": null}, "y": {"field": "v", "type": "quantitative", "axis": null}}},
{"data": {"values": [{"t": 0.218, "v": 28.5, "s": "(d)"}]}, "mark": {"type": "text", "font": "Lato", "fontWeight": "bold", "fontSize": 30, "align": "left", "baseline": "middle"},
"encoding": {"x": {"field": "t", "type": "quantitative", "axis": {"orient": "top", "values": [0.2, 0.4, 0.6, 0.8], "labels": false, "title": null}}, "y": {"field": "v", "type": "quantitative", "axis": {"orient": "right", "values": [-50, 0, 50], "labels": false, "title": null}}, "text": {"field": "s"}}}
],
"resolve": {"axis": {"x": "independent", "y": "independent"}}
},
{
"width": 414, "height": 17, "view": {"stroke": null},
"data": {"name": "stim"},
"mark": {"type": "rect", "color": "#ff0000", "stroke": "#ff9090", "strokeWidth": 1},
"encoding": {
"x": {"field": "t0", "type": "quantitative", "scale": {"domain": [0.2, 0.9], "nice": false}, "axis": null},
"x2": {"field": "t1"},
"y": {"datum": 0, "type": "quantitative", "scale": {"domain": [0, 17], "nice": false}, "axis": null},
"y2": {"datum": 15}}
},
{
"width": 414, "height": 196,
"layer": [
{"data": {"name": "rF_lif"}, "mark": {"type": "line", "color": "black", "strokeWidth": 2.5},
"encoding": {
"x": {"field": "t", "type": "quantitative", "scale": {"domain": [0.2, 0.9], "nice": false}, "axis": {"orient": "bottom", "values": [0.2, 0.4, 0.6, 0.8], "format": ".1f", "labelFlush": 5, "labelPadding": 12, "title": "Time (s)", "titleFontSize": 26, "titlePadding": 10}},
"y": {"field": "r", "type": "quantitative", "scale": {"domain": [-0.8, 70], "nice": false}, "axis": {"orient": "left", "values": [0, 25, 50], "labels": false, "title": null}}}},
{"data": {"name": "rF_wc"}, "mark": {"type": "line", "color": "orange", "strokeWidth": 2.5},
"encoding": {"x": {"field": "t", "type": "quantitative", "axis": null}, "y": {"field": "r", "type": "quantitative", "axis": null}}},
{"data": {"values": [{"t": 0.218, "r": 58, "s": "(f)"}]}, "mark": {"type": "text", "font": "Lato", "fontWeight": "bold", "fontSize": 30, "align": "left", "baseline": "middle"},
"encoding": {"x": {"field": "t", "type": "quantitative", "axis": {"orient": "top", "values": [0.2, 0.4, 0.6, 0.8], "labels": false, "title": null}}, "y": {"field": "r", "type": "quantitative", "axis": {"orient": "right", "values": [0, 25, 50], "labels": false, "title": null}}, "text": {"field": "s"}}}
],
"resolve": {"axis": {"x": "independent", "y": "independent"}}
}
],
"spacing": 11,
"bounds": "flush",
"resolve": {"scale": {"x": "independent", "y": "independent", "color": "independent", "fill": "independent", "stroke": "independent"}, "legend": {"color": "independent"}}
}
],
"spacing": 16,
"bounds": "flush",
"resolve": {"scale": {"x": "independent", "y": "independent", "color": "independent", "fill": "independent", "stroke": "independent"}, "legend": {"color": "independent"}}
}
],
"spacing": 4,
"resolve": {"scale": {"x": "independent", "y": "independent", "color": "independent", "fill": "independent", "stroke": "independent"}, "legend": {"color": "independent"}},
"config": {
"view": {"stroke": "black", "strokeWidth": 4},
"axis": {"domain": false, "grid": false, "minExtent": 0, "tickColor": "black", "tickWidth": 2.5, "tickSize": -6, "labelFont": "Liberation Serif", "labelFontSize": 25, "labelColor": "black", "titleFont": "Liberation Serif", "titleFontSize": 25, "titleFontWeight": "normal", "titleColor": "black"},
"title": {"font": "Lato", "fontSize": 27, "fontWeight": "bold", "color": "black"}
}
}
